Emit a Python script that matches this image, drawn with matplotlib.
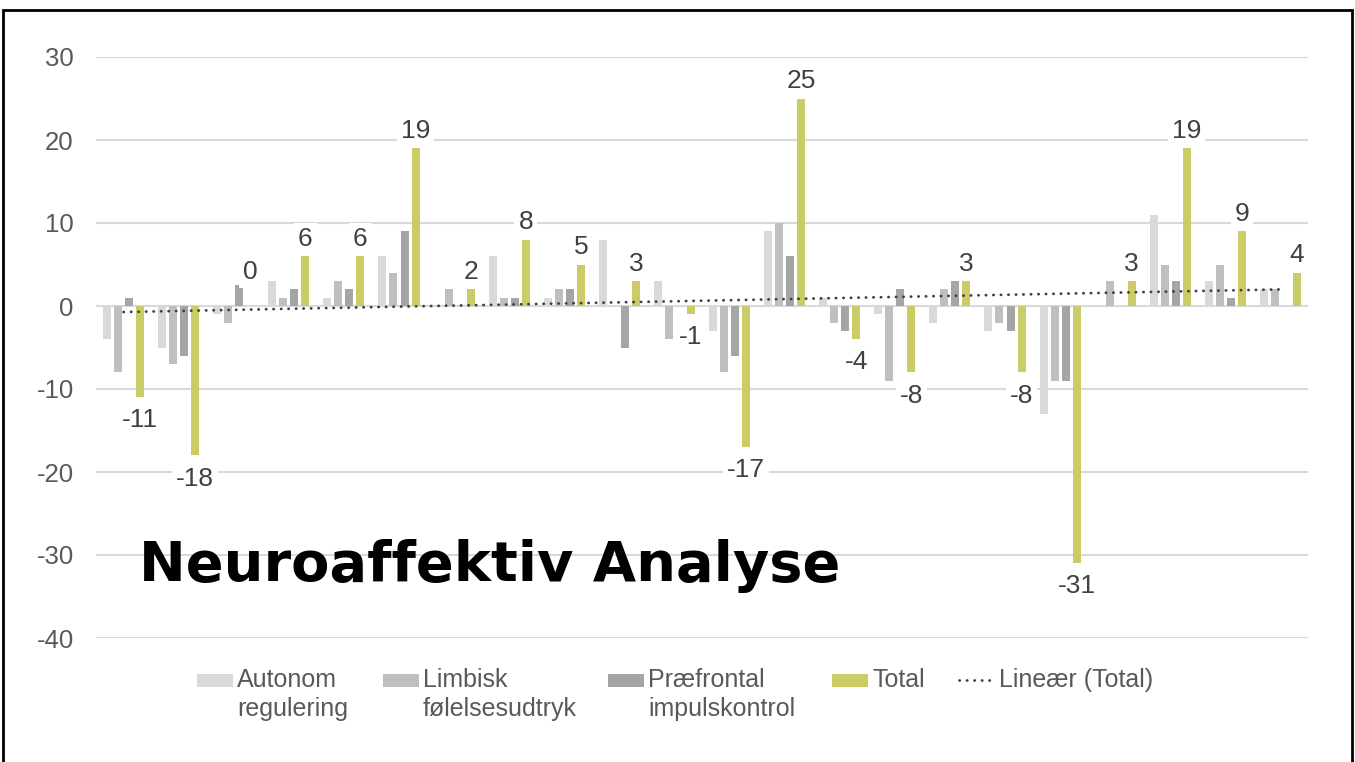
import numpy as np
import matplotlib
matplotlib.use("Agg")
import matplotlib.pyplot as plt
from matplotlib.patches import Rectangle
from matplotlib.lines import Line2D

# ---- data ----
series_names = ["Autonom\nregulering", "Limbisk\nfølelsesudtryk", "Præfrontal\nimpulskontrol", "Total"]
trend_name = "Lineær (Total)"
autonom = [-4, -5, -1, 3, 1, 6, 0, 6, 1, 8, 3, -3, 9, 1, -1, -2, -3, -13, 0, 11, 3, 2]
limbisk = [-8, -7, -2, 1, 3, 4, 2, 1, 2, 0, -4, -8, 10, -2, -9, 2, -2, -9, 3, 5, 5, 2]
praefrontal = [1, -6, 2.5, 2, 2, 9, 0, 1, 2, -5, 0, -6, 6, -3, 2, 3, -3, -9, 0, 3, 1, 0]
total = [-11, -18, 0, 6, 6, 19, 2, 8, 5, 3, -1, -17, 25, -4, -8, 3, -8, -31, 3, 19, 9, 4]
yticks = [-40, -30, -20, -10, 0, 10, 20, 30]
title = "Neuroaffektiv Analyse"

colors = ["#D9D9D9", "#BFBFBF", "#A5A5A5", "#CCCC66"]
TXT = "#595959"
LBL = "#404040"
TREND = "#404040"

plt.rcParams['axes.unicode_minus'] = False
plt.rcParams['font.family'] = ['Liberation Sans', 'DejaVu Sans']

W, H = 1355, 762
fig = plt.figure(figsize=(W / 100, H / 100), dpi=100)
fig.patch.set_facecolor("white")

def fx(x):
    return x / W

def fy(y):
    return 1 - y / H

ax = fig.add_axes([fx(96), fy(638), fx(1308) - fx(96), fy(57) - fy(638)])
n = len(total)
idx = np.arange(n)
bw = 0.145
step = 0.2
all_series = [autonom, limbisk, praefrontal, total]
for k, (vals, c) in enumerate(zip(all_series, colors)):
    ax.bar(idx + (k - 1.5) * step, vals, width=bw, color=c, zorder=2)

# trend line (least squares on Total)
coef = np.polyfit(idx, total, 1)
ax.plot(idx, np.polyval(coef, idx), color=TREND, lw=2.0,
        linestyle=(0, (0.1, 2.6)), dash_capstyle="round", zorder=3)

# data labels on Total
LFS = 19
for i, v in enumerate(total):
    xpos = i + 1.5 * step
    if v > 0:
        off, va = 4, "bottom"
    elif v == 0:
        off, va = 16, "bottom"
    else:
        off, va = -8, "top"
    ax.annotate(str(v), (xpos, v), xytext=(0, off), textcoords="offset points",
                ha="center", va=va, fontsize=LFS, color=LBL, zorder=4,
                bbox=dict(boxstyle="square,pad=0.15", fc="white", ec="none"))

ax.set_xlim(-0.5, n - 0.5)
ax.set_ylim(-40, 30)
ax.set_yticks(yticks)
ax.set_yticklabels([str(t) for t in yticks])
ax.set_xticks([])
ax.tick_params(axis="y", length=0, pad=16, labelsize=18.5, labelcolor=TXT)
for s in ax.spines.values():
    s.set_visible(False)
ax.grid(axis="y", color="#D9D9D9", lw=1.5, zorder=0)
ax.set_axisbelow(True)
ax.patch.set_alpha(0)

# title
fig.text(fx(139), fy(581), title, fontsize=40.2, fontweight="bold",
         family="DejaVu Sans", color="black", ha="left", va="baseline", zorder=5)

# legend (manual, handles aligned with first text line)
leg_x = [197, 383, 608, 832]
for name, c, x0 in zip(series_names, colors, leg_x):
    fig.add_artist(Rectangle((fx(x0), fy(687)), fx(36), 13 / H, transform=fig.transFigure,
                             fc=c, ec="none"))
    fig.text(fx(x0 + 40), fy(668), name, fontsize=18, color=TXT, ha="left",
             va="top", linespacing=1.28)
fig.add_artist(Line2D([fx(959), fx(994)], [fy(680), fy(680)], transform=fig.transFigure,
                      color=TREND, lw=2.0, linestyle=(0, (0.1, 2.6)),
                      dash_capstyle="round"))
fig.text(fx(999), fy(668), trend_name, fontsize=18, color=TXT, ha="left", va="top")

# outer frame
fig.add_artist(Rectangle((fx(3), -0.05), fx(1352) - fx(3), fy(10) + 0.05,
                         transform=fig.transFigure, fill=False, ec="black", lw=2))

fig.savefig("out.png", dpi=100)
